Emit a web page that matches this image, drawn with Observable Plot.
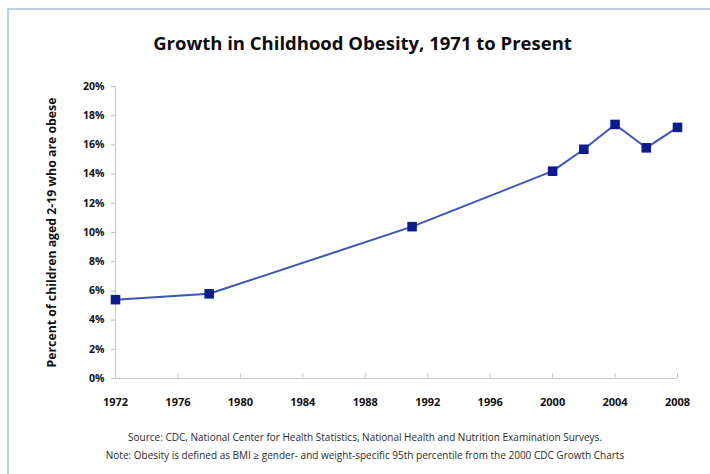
<!DOCTYPE html>
<html><head><meta charset="utf-8">
<script src="https://cdn.jsdelivr.net/npm/d3@7"></script>
<script src="https://cdn.jsdelivr.net/npm/@observablehq/plot@0.6"></script>
<style>
body{margin:0;background:#fff;font-family:"Open Sans",sans-serif;}
#wrap{position:relative;width:710px;height:474px;overflow:hidden;background:#fff;}
#frame{position:absolute;left:7px;top:8px;width:720px;height:480px;border-left:2px solid #b9d0ea;border-top:2px solid #b9d0ea;}
#title{position:absolute;left:0;top:30px;width:725px;text-align:center;font-weight:bold;font-size:18.5px;color:#0d0d0d;}
#chart{position:absolute;left:0;top:70px;}
#caption{position:absolute;left:0;top:429px;width:730px;text-align:center;font-size:10px;line-height:17.5px;color:#2a2a2a;}
</style></head>
<body>
<div id="wrap">
  <div id="frame"></div>
  <div id="title"></div>
  <div id="chart"></div>
  <div id="caption"></div>
</div>
<script>
const titleText = "Growth in Childhood Obesity, 1971 to Present";
const years = [1972, 1978, 1991, 2000, 2002, 2004, 2006, 2008];
const obesity = [5.4, 5.8, 10.4, 14.2, 15.7, 17.4, 15.8, 17.2];
const xTicks = [1972, 1976, 1980, 1984, 1988, 1992, 1996, 2000, 2004, 2008];
const yTicks = [0, 2, 4, 6, 8, 10, 12, 14, 16, 18, 20];
const yLabel = "Percent of children aged 2-19 who are obese";
const captionLines = [
  "Source: CDC, National Center for Health Statistics, National Health and Nutrition Examination Surveys.",
  "Note: Obesity is defined as BMI \u2265 gender- and weight-specific 95th percentile from the 2000 CDC Growth Charts"
];

const data = years.map((year, i) => ({year, value: obesity[i]}));

document.getElementById("title").textContent = titleText;
const cap = document.getElementById("caption");
captionLines.forEach(t => { const d = document.createElement("div"); d.textContent = t; cap.appendChild(d); });

const chart = Plot.plot({
  width: 710, height: 345,
  marginLeft: 115, marginRight: 33, marginTop: 16, marginBottom: 37,
  style: {fontFamily: "Open Sans", background: "transparent"},
  x: {domain: [1972, 2008]},
  y: {domain: [0, 20]},
  marks: [
    Plot.ruleY([0], {stroke: "#c8c8c8"}),
    Plot.ruleX([1972], {stroke: "#c8c8c8"}),
    Plot.ruleX(xTicks, {y1: 0, y2: 0.35, stroke: "#c8c8c8"}),
    Plot.axisX({ticks: xTicks, tickFormat: d => String(d), tickSize: 0, tickPadding: 20, fontSize: 11, fontWeight: "bold", fill: "#111", label: null}),
    Plot.axisY({ticks: yTicks, tickFormat: d => d + "%", tickSize: 4, tickPadding: 7, stroke: "#bbb", fill: "#111", fontSize: 10.5, fontWeight: "bold", label: null}),
    Plot.axisY({ticks: [], tickSize: 0, fill: "#111", fontSize: 12.3, fontWeight: "bold",
      label: yLabel, labelAnchor: "center", labelOffset: 68, labelArrow: "none"}),
    Plot.line(data, {x: "year", y: "value", stroke: "#3c54b8", strokeWidth: 2}),
    Plot.dot(data, {x: "year", y: "value", symbol: "square", r: 5.4, fill: "#0c1c8c"})
  ]
});
document.getElementById("chart").appendChild(chart);
</script>
</body></html>
